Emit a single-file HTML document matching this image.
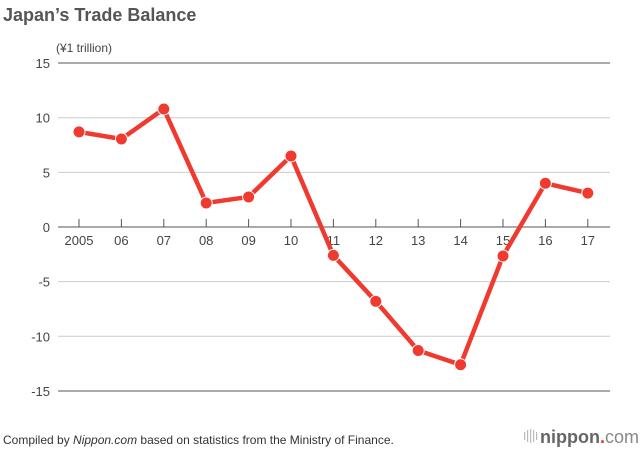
<!DOCTYPE html>
<html><head><meta charset="utf-8"><style>
body{margin:0;background:#fff;width:640px;height:452px;overflow:hidden;font-family:"Liberation Sans",sans-serif;}
svg text{font-family:"Liberation Sans",sans-serif;}
</style></head><body>
<svg id="chart" width="640" height="452" xmlns="http://www.w3.org/2000/svg">
<text x="3" y="21" font-size="18" font-weight="bold" fill="#555">Japan’s Trade Balance</text>
<text x="56" y="52" font-size="12" fill="#444">(¥1 trillion)</text>
<g id="grid"></g>
<g id="ticks"></g>
<g id="series"></g>
<text x="3" y="444" font-size="12" fill="#333">Compiled by <tspan font-style="italic">Nippon.com</tspan> based on statistics from the Ministry of Finance.</text>
<g>
<g fill="#bbb"><rect x="524" y="432" width="1.2" height="8"/><rect x="527" y="430" width="1.2" height="12"/><rect x="530" y="429" width="1.2" height="14"/><rect x="533" y="430" width="1.2" height="12"/><rect x="536" y="432" width="1.2" height="8"/></g>
<text x="540" y="443" font-size="18" font-weight="bold" fill="#666">nippon<tspan fill="#e33">.</tspan><tspan font-weight="normal" fill="#888">com</tspan></text>
</g>
</svg>
<script>
const categories=["2005","06","07","08","09","10","11","12","13","14","15","16","17"];
const values=[8.7,8.05,10.8,2.2,2.75,6.5,-2.6,-6.8,-11.3,-12.6,-2.65,4.0,3.1];
const yTicks=[15,10,5,0,-5,-10,-15];
const NS="http://www.w3.org/2000/svg";
function y(v){return 227-v*10.93;}
function x(i){return 79+i*42.4;}
function mk(tag,attrs,parent){const e=document.createElementNS(NS,tag);for(const k in attrs)e.setAttribute(k,attrs[k]);parent.appendChild(e);return e;}
const grid=document.getElementById('grid'),ticks=document.getElementById('ticks'),series=document.getElementById('series');
yTicks.forEach(t=>{
  const dark=(t===15||t===0||t===-15);
  const l=mk('line',{x1:58,x2:610,y1:y(t),y2:y(t),stroke:dark?'#555':'#ccc','stroke-width':1},grid);
  
  
  const tx=mk('text',{x:50,y:y(t)+5,'text-anchor':'end','font-size':13,fill:'#444'},grid);
  tx.textContent=t;
  
  
});
categories.forEach((c,i)=>{
  const l=mk('line',{x1:x(i),x2:x(i),y1:219,y2:227,stroke:'#555'},ticks);
  
  
  const tx=mk('text',{x:x(i),y:245,'text-anchor':'middle','font-size':13,fill:'#444'},ticks);
  tx.textContent=c;
  
  
});
const pl=mk('polyline',{points:values.map((v,i)=>x(i)+','+y(v)).join(' '),fill:'none',stroke:'#f03a30','stroke-width':4.5,'stroke-linejoin':'round'},series);


values.forEach((v,i)=>{
  const c=mk('circle',{cx:x(i),cy:y(v),r:6,fill:'#f03a30',stroke:'#fff','stroke-width':1},series);
  
  
});
</script>
</body></html>
